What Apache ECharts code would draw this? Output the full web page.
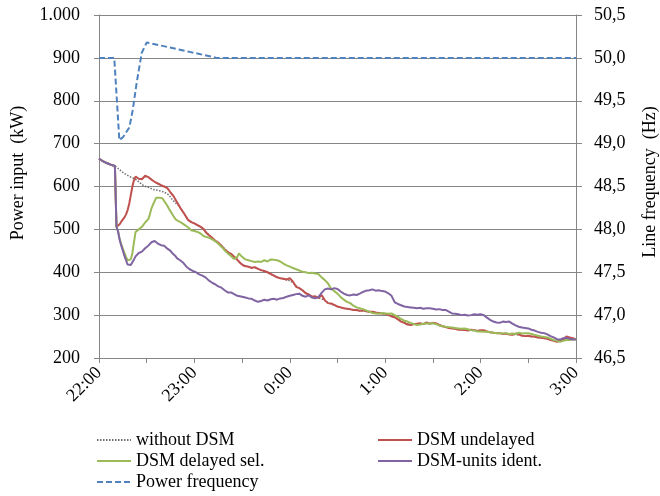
<!DOCTYPE html>
<html>
<head>
<meta charset="utf-8">
<script src="https://cdn.jsdelivr.net/npm/echarts@6/dist/echarts.min.js"></script>
<style>html,body{margin:0;padding:0;background:#fff}#c{width:660px;height:496px}</style>
</head>
<body>
<div id="c"></div>
<script>
// time in minutes after 22:00
const hourLabels = ['22:00','23:00','0:00','1:00','2:00','3:00'];
const leftTicks = [200,300,400,500,600,700,800,900,1000];

const withoutDSM = [[0,665],[2,660],[4,656],[6,653],[8,650],[10,648],[12,642],[14,636],[16,630],[18,626],[20,622],[22,619],[24,614],[26,608],[28,602],[30,599],[32,597],[34,593],[36,592],[38,590],[40,588],[42,585],[44,580],[46,570],[48,562],[50,556],[52,546],[54,534],[56,523],[58,518],[60,513],[62,509],[64,505],[66,499],[68,491],[70,484],[72,477],[74,471],[76,466],[78,459],[80,451],[82,445],[84,439],[86,433],[88,425],[90,418],[92,415],[94,412],[96,411],[98,411],[100,408],[102,404],[104,402],[106,399],[108,395],[110,392],[112,389],[114,386],[116,384],[118,382],[120,380],[122,376],[124,368],[126,362],[128,357],[130,352],[132,347],[134,344],[136,342],[138,340],[140,338],[142,334],[144,329],[146,326],[148,323],[150,320],[152,318],[154,316],[156,315],[158,313],[160,312],[164,310],[168,309],[172,307],[176,305],[180,303],[184,298],[188,291],[192,283],[196,278],[200,279],[204,280],[208,281],[212,280],[216,275],[220,271],[224,268],[228,266],[232,265],[236,264],[240,264],[244,262],[248,259],[252,258],[256,256],[260,255],[264,254],[268,252],[272,250],[276,248],[280,246],[284,243],[288,239],[292,243],[296,247],[300,244]];

const dsmUndelayed = [[0,665],[2,660],[4,656],[6,653],[8,650],[10,648],[11,506],[12,505],[13,512],[14,518],[15,522],[16,528],[17,535],[18,545],[19,560],[20,580],[21,600],[22,615],[23,623],[24,620],[25,618],[26,622],[27,617],[28,621],[29,625],[30,627],[31,622],[32,619],[33,616],[34,612],[35,611],[36,614],[37,607],[38,604],[39,603],[40,605],[41,600],[42,599],[43,596],[44,592],[45,586],[46,583],[47,577],[48,570],[49,564],[50,560],[51,551],[52,545],[53,540],[54,534],[55,528],[56,522],[57,520],[58,517],[59,516],[60,514],[61,512],[62,510],[63,507],[64,506],[65,503],[66,500],[67,494],[68,490],[69,487],[70,483],[71,481],[72,478],[73,474],[74,470],[75,469],[76,467],[77,462],[78,458],[79,453],[80,450],[81,447],[82,444],[83,443],[84,440],[85,436],[86,432],[87,429],[88,426],[89,421],[90,417],[91,415],[92,414],[94,413],[96,410],[98,412],[100,408],[102,405],[104,403],[106,400],[108,396],[110,392],[112,388],[114,386],[116,385],[118,383],[120,386],[122,378],[124,366],[126,363],[128,358],[130,351],[132,348],[134,343],[136,344],[138,340],[140,347],[142,335],[144,328],[146,327],[148,324],[150,320],[152,318],[154,316],[156,315],[158,314],[160,312],[162,312],[164,310],[166,311],[168,309],[170,308],[172,308],[174,306],[176,305],[178,304],[180,303],[182,300],[184,297],[186,295],[188,290],[190,285],[192,282],[194,278],[196,277],[198,279],[200,280],[202,281],[204,279],[206,283],[208,280],[210,282],[212,281],[214,277],[216,274],[218,272],[220,270],[222,269],[224,268],[226,266],[228,266],[230,265],[232,264],[234,266],[236,265],[238,263],[240,265],[242,265],[244,262],[246,260],[248,259],[250,258],[252,258],[254,256],[256,257],[258,255],[260,254],[262,257],[264,255],[266,252],[268,251],[270,252],[272,250],[274,250],[276,248],[278,247],[280,246],[282,245],[284,242],[286,240],[288,238],[290,240],[292,244],[294,250],[296,248],[298,246],[300,244]];

const dsmDelayedSel = [[0,665],[2,660],[4,656],[6,653],[8,650],[10,648],[11,506],[12,495],[13,478],[14,466],[15,455],[16,445],[17,436],[18,428],[19,425],[20,430],[21,445],[22,470],[23,494],[24,496],[25,500],[26,502],[27,506],[28,510],[29,516],[30,520],[31,524],[32,535],[33,549],[34,558],[35,566],[36,574],[37,577],[38,574],[39,576],[40,572],[41,566],[42,561],[43,555],[44,548],[45,542],[46,536],[47,530],[48,524],[49,522],[50,519],[51,518],[52,515],[53,513],[54,510],[55,507],[56,505],[57,501],[58,498],[59,497],[60,496],[61,495],[62,494],[63,491],[64,490],[65,486],[66,484],[67,483],[68,482],[69,480],[70,479],[71,477],[72,475],[73,472],[74,470],[75,466],[76,463],[77,459],[78,456],[79,451],[80,448],[81,444],[82,440],[83,438],[84,436],[85,431],[86,428],[87,436],[88,444],[89,440],[90,436],[92,430],[94,428],[96,426],[98,424],[100,425],[102,424],[104,428],[106,425],[108,430],[110,429],[112,428],[114,425],[116,420],[118,416],[120,413],[122,410],[124,407],[126,404],[128,401],[130,400],[132,398],[134,399],[136,397],[138,396],[140,388],[142,382],[144,374],[146,362],[148,356],[150,350],[152,342],[154,336],[156,331],[158,328],[160,322],[162,318],[164,316],[166,314],[168,311],[170,308],[172,305],[174,304],[176,303],[178,305],[180,304],[182,303],[184,304],[186,300],[188,296],[190,291],[192,287],[194,285],[196,282],[198,279],[200,277],[202,278],[204,280],[206,281],[208,280],[210,281],[212,279],[214,276],[216,274],[218,273],[220,272],[222,271],[224,270],[226,269],[228,268],[230,269],[232,267],[234,265],[236,264],[238,262],[240,262],[242,261],[244,261],[246,260],[248,259],[250,258],[252,258],[254,257],[256,258],[258,256],[260,257],[262,256],[264,259],[266,257],[268,258],[270,258],[272,256],[274,254],[276,252],[278,250],[280,249],[282,248],[284,245],[286,242],[288,240],[290,238],[292,240],[294,242],[296,242],[298,243],[300,244]];

const dsmUnitsIdent = [[0,665],[2,660],[4,656],[6,653],[8,650],[10,648],[11,506],[12,495],[13,475],[14,462],[15,450],[16,438],[17,428],[18,418],[19,416],[20,417],[21,414],[22,430],[23,437],[24,440],[25,445],[26,443],[27,448],[28,452],[29,456],[30,460],[31,462],[32,466],[33,470],[34,471],[35,473],[36,470],[37,467],[38,469],[39,463],[40,460],[41,462],[42,458],[43,455],[44,456],[45,450],[46,445],[47,441],[48,438],[49,433],[50,430],[51,428],[52,424],[53,422],[54,418],[55,413],[56,409],[57,407],[58,405],[59,403],[60,401],[61,400],[62,398],[63,395],[64,393],[65,392],[66,390],[67,388],[68,386],[69,381],[70,378],[71,376],[72,374],[73,372],[74,370],[75,367],[76,366],[77,364],[78,362],[79,358],[80,356],[81,353],[82,351],[83,353],[84,352],[85,349],[86,347],[87,345],[88,344],[90,343],[92,341],[94,339],[96,338],[98,334],[100,331],[102,333],[104,336],[106,334],[108,337],[110,338],[112,336],[114,339],[116,340],[118,343],[120,345],[122,347],[124,349],[126,350],[128,345],[130,343],[132,346],[134,341],[136,339],[138,342],[140,352],[142,360],[144,362],[146,360],[148,363],[150,361],[152,355],[154,350],[156,347],[158,346],[160,348],[162,347],[164,350],[166,354],[168,357],[170,358],[172,360],[174,357],[176,358],[178,356],[180,355],[182,351],[184,345],[186,330],[188,326],[190,323],[192,320],[194,319],[196,318],[198,317],[200,316],[202,317],[204,315],[206,316],[208,316],[210,315],[212,313],[214,314],[216,312],[218,312],[220,308],[222,304],[224,303],[226,302],[228,300],[230,301],[232,299],[234,300],[236,302],[238,301],[240,302],[242,300],[244,294],[246,289],[248,285],[250,283],[252,282],[254,285],[256,284],[258,285],[260,280],[262,276],[264,273],[266,271],[268,270],[270,269],[272,266],[274,264],[276,261],[278,259],[280,258],[282,255],[284,251],[286,248],[288,244],[290,243],[292,246],[294,247],[296,245],[298,243],[300,243]];

const powerFrequency = [[0,50.0],[9.6,50.0],[12.8,49.04],[13.2,49.02],[15.3,49.08],[19.1,49.19],[21.2,49.39],[23.7,49.71],[26.9,50.06],[30,50.18],[57,50.07],[74,50.0],[300,50.0]];

const FONT = 'Liberation Serif';
const AX = '#868686';

const chart = echarts.init(document.getElementById('c'), null, {renderer:'canvas'});
chart.setOption({
  animation: false,
  backgroundColor: '#fff',
  textStyle: {fontFamily: FONT, color: '#000'},
  grid: {left: 99, right: 84, top: 15, bottom: 138, containLabel: false},
  xAxis: {
    type: 'value', min: 0, max: 300, interval: 30,
    axisLine: {show: true, lineStyle: {color: AX, width: 1}},
    axisTick: {show: true, length: 5, inside: false, lineStyle: {color: AX}},
    splitLine: {show: false},
    axisLabel: {
      rotate: 45, margin: 12, fontSize: 18, fontFamily: FONT, color: '#000',
      formatter: v => (v % 60 === 0 ? hourLabels[v / 60] : '')
    }
  },
  yAxis: [
    {
      type: 'value', min: 200, max: 1000, interval: 100,
      axisLine: {show: true, lineStyle: {color: AX, width: 1}},
      axisTick: {show: true, length: 5, lineStyle: {color: AX}},
      splitLine: {show: true, lineStyle: {color: AX, width: 1}},
      axisLabel: {
        margin: 19, fontSize: 18, fontFamily: FONT, color: '#000',
        formatter: v => (v >= 1000 ? (Math.floor(v / 1000) + '.' + String(v % 1000).padStart(3, '0')) : String(v))
      }
    },
    {
      type: 'value', min: 46.5, max: 50.5, interval: 0.5, position: 'right',
      axisLine: {show: true, lineStyle: {color: AX, width: 1}},
      axisTick: {show: true, length: 6, lineStyle: {color: AX}},
      splitLine: {show: false},
      axisLabel: {
        margin: 18, fontSize: 18, fontFamily: FONT, color: '#000',
        formatter: v => v.toFixed(1).replace('.', ',')
      }
    }
  ],
  legend: [
    {
      left: 96, top: 431, orient: 'vertical', itemWidth: 34, itemHeight: 10, itemGap: 3, padding: 0,
      itemStyle: {opacity: 0},
      textStyle: {fontSize: 18, fontFamily: FONT, color: '#000', lineHeight: 18},
      data: ['without DSM', 'DSM delayed sel.', 'Power frequency']
    },
    {
      left: 377, top: 431, orient: 'vertical', itemWidth: 34, itemHeight: 10, itemGap: 3, padding: 0,
      itemStyle: {opacity: 0},
      textStyle: {fontSize: 18, fontFamily: FONT, color: '#000', lineHeight: 18},
      data: ['DSM undelayed', 'DSM-units ident.']
    }
  ],
  graphic: [
    {type: 'text', x: 18, y: 173, rotation: Math.PI / 2,
     style: {text: 'Power input  (kW)', fontSize: 18, fontFamily: FONT, fill: '#000', align: 'center', verticalAlign: 'middle'}},
    {type: 'text', x: 650, y: 182, rotation: Math.PI / 2,
     style: {text: 'Line frequency  (Hz)', fontSize: 18, fontFamily: FONT, fill: '#000', align: 'center', verticalAlign: 'middle'}}
  ],
  series: [
    {name: 'without DSM', type: 'line', yAxisIndex: 0, data: withoutDSM, showSymbol: false, symbol: 'none',
     lineStyle: {color: '#6f6f6f', width: 1.5, type: [1.5, 1.5]}, itemStyle: {color: '#6f6f6f'}},
    {name: 'DSM undelayed', type: 'line', yAxisIndex: 0, data: dsmUndelayed, showSymbol: false, symbol: 'none',
     lineStyle: {color: '#C0504D', width: 2}, itemStyle: {color: '#C0504D'}},
    {name: 'DSM delayed sel.', type: 'line', yAxisIndex: 0, data: dsmDelayedSel, showSymbol: false, symbol: 'none',
     lineStyle: {color: '#9BBB59', width: 2}, itemStyle: {color: '#9BBB59'}},
    {name: 'DSM-units ident.', type: 'line', yAxisIndex: 0, data: dsmUnitsIdent, showSymbol: false, symbol: 'none',
     lineStyle: {color: '#8064A2', width: 2}, itemStyle: {color: '#8064A2'}},
    {name: 'Power frequency', type: 'line', yAxisIndex: 1, data: powerFrequency, showSymbol: false, symbol: 'none',
     lineStyle: {color: '#4F81BD', width: 2, type: [6, 3]}, itemStyle: {color: '#4F81BD'}}
  ]
});
</script>
</body>
</html>
